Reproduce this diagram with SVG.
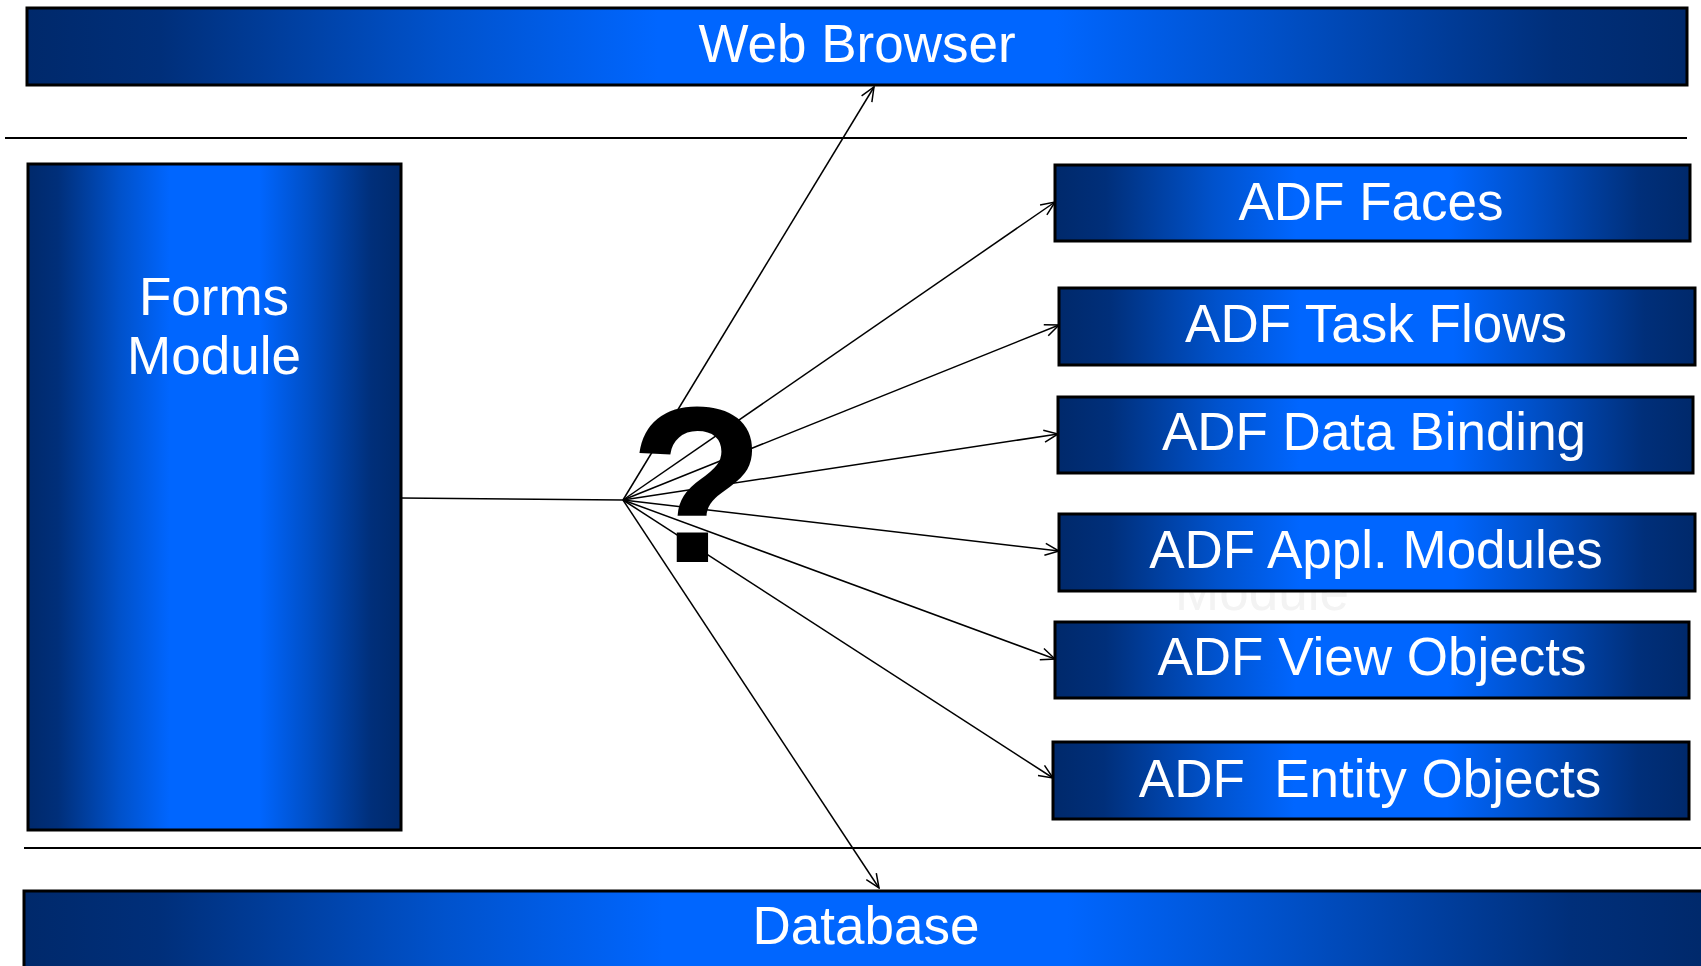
<svg xmlns="http://www.w3.org/2000/svg" width="1701" height="966" viewBox="0 0 1701 966">
<style>
.box{fill:url(#g);stroke:#000;stroke-width:3}
.lbl{font-family:"Liberation Sans",Arial,sans-serif;font-size:53px;fill:#fff;text-anchor:middle}
.sep{stroke:#000;stroke-width:2}
.con{stroke:#000;stroke-width:1.5;fill:none}
</style>
<defs>
<linearGradient id="g" x1="0" y1="0" x2="1" y2="0">
<stop offset="0" stop-color="#00296b"/>
<stop offset="0.08" stop-color="#002f7a"/>
<stop offset="0.25" stop-color="#0052cc"/>
<stop offset="0.38" stop-color="#0066ff"/>
<stop offset="0.62" stop-color="#0066ff"/>
<stop offset="0.75" stop-color="#0050c8"/>
<stop offset="0.92" stop-color="#002f7a"/>
<stop offset="1" stop-color="#00296b"/>
</linearGradient>
<marker id="arr" viewBox="0 0 16 14" refX="15" refY="7" markerWidth="16" markerHeight="14" markerUnits="userSpaceOnUse" orient="auto">
<path d="M1,1 L15,7 L1,13" fill="none" stroke="#000" stroke-width="1.5"/>
</marker>
</defs>

<line class="sep" x1="5" y1="138" x2="1687" y2="138"/>
<line class="sep" x1="24" y1="848" x2="1701" y2="848"/>

<text x="1262" y="610" font-family="Liberation Sans,Arial,sans-serif" font-size="53" fill="#f3f3f3" text-anchor="middle">Module</text>

<g id="web-browser"><rect class="box" x="27" y="8" width="1660" height="77"/><text class="lbl" x="857" y="62">Web Browser</text></g>
<g id="forms-module"><rect class="box" x="28" y="164" width="373" height="666"/><text class="lbl" x="214" y="315">Forms</text><text class="lbl" x="214" y="374">Module</text></g>
<g id="adf-faces"><rect class="box" x="1055" y="165" width="635" height="76"/><text class="lbl" x="1371" y="220">ADF Faces</text></g>
<g id="adf-task-flows"><rect class="box" x="1059" y="288" width="636" height="77"/><text class="lbl" x="1376" y="342">ADF Task Flows</text></g>
<g id="adf-data-binding"><rect class="box" x="1058" y="397" width="635" height="76"/><text class="lbl" x="1374" y="450">ADF Data Binding</text></g>
<g id="adf-appl-modules"><rect class="box" x="1059" y="514" width="636" height="77"/><text class="lbl" x="1376" y="568">ADF Appl. Modules</text></g>
<g id="adf-view-objects"><rect class="box" x="1055" y="622" width="634" height="76"/><text class="lbl" x="1372" y="675">ADF View Objects</text></g>
<g id="adf-entity-objects"><rect class="box" x="1053" y="742" width="636" height="77"/><text class="lbl" x="1370" y="797" xml:space="preserve">ADF  Entity Objects</text></g>
<g id="database"><rect class="box" x="24" y="891" width="1682" height="80"/><text class="lbl" x="866" y="944">Database</text></g>

<g id="connectors">
<line class="con" x1="401" y1="498" x2="623" y2="500"/>
<line class="con" x1="623" y1="500" x2="874" y2="87" marker-end="url(#arr)"/>
<line class="con" x1="623" y1="500" x2="1055" y2="202" marker-end="url(#arr)"/>
<line class="con" x1="623" y1="500" x2="1059" y2="325" marker-end="url(#arr)"/>
<line class="con" x1="623" y1="500" x2="1058" y2="434" marker-end="url(#arr)"/>
<line class="con" x1="623" y1="500" x2="1059" y2="551" marker-end="url(#arr)"/>
<line class="con" x1="623" y1="500" x2="1055" y2="659" marker-end="url(#arr)"/>
<line class="con" x1="623" y1="500" x2="1053" y2="778" marker-end="url(#arr)"/>
<line class="con" x1="623" y1="500" x2="879" y2="888" marker-end="url(#arr)"/>
</g>

<text x="697" y="562" font-family="Liberation Sans,Arial,sans-serif" font-size="222" font-weight="bold" fill="#000" text-anchor="middle">?</text>
</svg>
